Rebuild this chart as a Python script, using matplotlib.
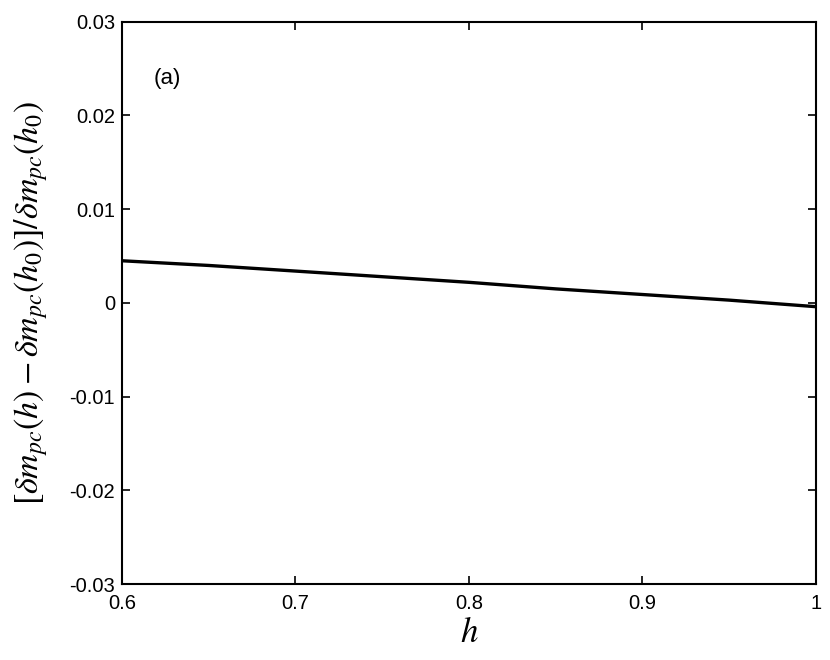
import matplotlib
matplotlib.use('Agg')
import matplotlib.pyplot as plt

# valores
h = [0.60, 0.65, 0.70, 0.75, 0.80, 0.85, 0.90, 0.95, 1.00]
delta = [0.0045, 0.0040, 0.0034, 0.0028, 0.0022, 0.0015, 0.0009, 0.0003, -0.0004]

xticks = [0.6, 0.7, 0.8, 0.9, 1.0]
xtick_labels = ['0.6', '0.7', '0.8', '0.9', '1']
yticks = [-0.03, -0.02, -0.01, 0, 0.01, 0.02, 0.03]
ytick_labels = ['-0.03', '-0.02', '-0.01', '0', '0.01', '0.02', '0.03']

plt.rcParams['font.family'] = 'Liberation Sans'
plt.rcParams['mathtext.fontset'] = 'stix'

fig = plt.figure(figsize=(8.3, 6.6), dpi=100)
ax = fig.add_axes([0.147, 0.115, 0.836, 0.852])

ax.plot(h, delta, color='black', linewidth=2.4)

ax.set_xlim(0.6, 1.0)
ax.set_ylim(-0.03, 0.03)
ax.set_xticks(xticks)
ax.set_xticklabels(xtick_labels, fontsize=14.5)
ax.set_yticks(yticks)
ax.set_yticklabels(ytick_labels, fontsize=14.5)
ax.tick_params(direction='in', top=True, right=True, length=6, width=1.2)
ax.tick_params(axis='x', pad=7)
ax.tick_params(axis='y', pad=5)
for s in ax.spines.values():
    s.set_linewidth(1.5)

ax.text(0.045, 0.89, '(a)', transform=ax.transAxes, fontsize=16)

ax.set_xlabel(r'$h$', fontsize=25, labelpad=2)
ax.set_ylabel(r'$[\delta m_{pc}(h)-\delta m_{pc}(h_0)]/\delta m_{pc}(h_0)$', fontsize=24.5, labelpad=14)

plt.savefig('out.png', dpi=100)
